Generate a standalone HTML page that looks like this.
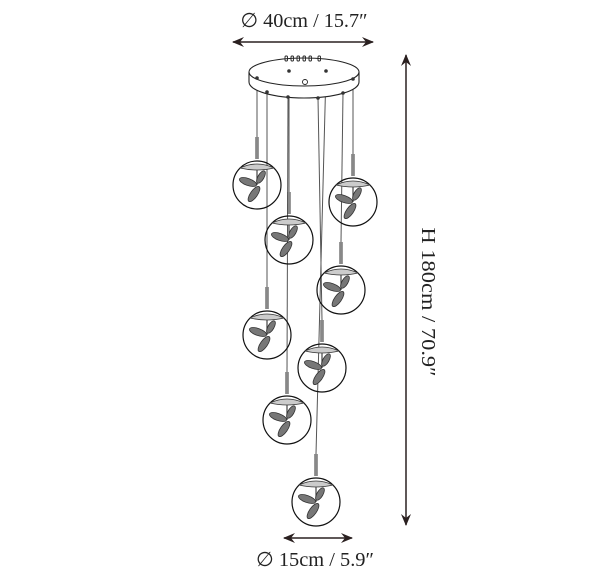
<!DOCTYPE html>
<html><head><style>
body{margin:0;background:#fff;width:600px;height:578px;overflow:hidden}
text{font-family:"Liberation Serif",serif;fill:#222}
</style></head><body>
<svg width="600" height="578" viewBox="0 0 600 578" xmlns="http://www.w3.org/2000/svg">
<defs>
<marker id="a" viewBox="0 0 12 10" refX="11" refY="5" markerWidth="12" markerHeight="10" markerUnits="userSpaceOnUse" orient="auto-start-reverse"><path d="M0,0 L12,5 L0,10 L4,5 Z" fill="#2a2020"/></marker>
<g id="g">
<line x1="0" y1="-48" x2="0" y2="-26" stroke="#333" stroke-width="3"/>
<line x1="0" y1="-48" x2="0" y2="-26" stroke="#ddd" stroke-width="1"/>
<circle r="24" fill="none" stroke="#111" stroke-width="1.2"/>
<path d="M-17,-17 Q0,-25 17,-17 Q0,-13 -17,-17Z" fill="#ccc" stroke="#333" stroke-width="0.8"/>
<line x1="0" y1="-15" x2="0" y2="0" stroke="#444" stroke-width="1.2"/>
<ellipse cx="-9" cy="-3" rx="9" ry="3.5" transform="rotate(20 -9 -3)" fill="#777" stroke="#333" stroke-width="0.8"/>
<ellipse cx="4" cy="-8" rx="7" ry="3" transform="rotate(-60 4 -8)" fill="#777" stroke="#333" stroke-width="0.8"/>
<ellipse cx="-3" cy="9" rx="9" ry="3.5" transform="rotate(-55 -3 9)" fill="#777" stroke="#333" stroke-width="0.8"/>
</g>
</defs>
<text x="304" y="27" font-size="20" text-anchor="middle" textLength="127" lengthAdjust="spacingAndGlyphs">∅ 40cm / 15.7″</text>
<line x1="233" y1="42" x2="373" y2="42" stroke="#2a2020" stroke-width="1.5" marker-start="url(#a)" marker-end="url(#a)"/>
<g stroke="#555" stroke-width="1">
<line x1="257" y1="78" x2="257" y2="137"/>
<line x1="353" y1="79" x2="353" y2="154"/>
<line x1="289" y1="71" x2="289" y2="192"/>
<line x1="343" y1="93" x2="341" y2="242"/>
<line x1="267" y1="92" x2="267" y2="287"/>
<line x1="318" y1="98" x2="322" y2="320"/>
<line x1="288" y1="97" x2="287" y2="372"/>
<line x1="326" y1="71" x2="316" y2="454"/>
</g>
<path d="M249,72 L249,82 A55,16 0 0 0 359,82 L359,72" fill="#fff" stroke="#222" stroke-width="1.1"/>
<ellipse cx="304" cy="72" rx="55" ry="14" fill="#fff" stroke="#222" stroke-width="1.1"/>
<g fill="none" stroke="#222" stroke-width="0.9">
<rect x="285" y="56" width="2.5" height="5" rx="1"/><rect x="291" y="56" width="2.5" height="5" rx="1"/><rect x="297" y="56" width="2.5" height="5" rx="1"/><rect x="303" y="56" width="2.5" height="5" rx="1"/><rect x="309" y="56" width="2.5" height="5" rx="1"/><rect x="318" y="56" width="2.5" height="5" rx="1"/>
<circle cx="305" cy="82" r="2.5"/>
</g>
<g fill="#333"><circle cx="257" cy="78" r="1.8"/><circle cx="353" cy="79" r="1.8"/><circle cx="289" cy="71" r="1.8"/><circle cx="326" cy="71" r="1.8"/><circle cx="267" cy="92" r="1.8"/><circle cx="343" cy="93" r="1.8"/><circle cx="288" cy="97" r="1.8"/><circle cx="318" cy="98" r="1.8"/></g>
<use href="#g" x="257" y="185"/>
<use href="#g" x="353" y="202"/>
<use href="#g" x="289" y="240"/>
<use href="#g" x="341" y="290"/>
<use href="#g" x="267" y="335"/>
<use href="#g" x="322" y="368"/>
<use href="#g" x="287" y="420"/>
<use href="#g" x="316" y="502"/>
<line x1="406" y1="55" x2="406" y2="525" stroke="#2a2020" stroke-width="1.5" marker-start="url(#a)" marker-end="url(#a)"/>
<text x="0" y="0" font-size="20" text-anchor="middle" textLength="149" lengthAdjust="spacingAndGlyphs" transform="translate(422,302) rotate(90)">H 180cm / 70.9″</text>
<line x1="284" y1="538" x2="352" y2="538" stroke="#2a2020" stroke-width="1.5" marker-start="url(#a)" marker-end="url(#a)"/>
<text x="315" y="566" font-size="20" text-anchor="middle" textLength="118" lengthAdjust="spacingAndGlyphs">∅ 15cm / 5.9″</text>
</svg>
</body></html>
